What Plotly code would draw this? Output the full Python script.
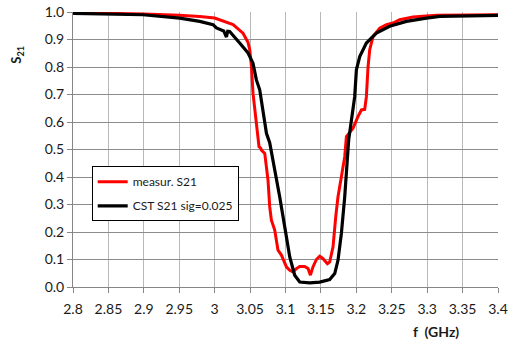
import plotly.graph_objects as go

# measured S21
f_meas = [2.8, 2.85, 2.9, 2.95, 2.979, 3.0, 3.026, 3.04, 3.047, 3.0495, 3.052, 3.0541,
          3.0565, 3.0598, 3.0626, 3.065, 3.066, 3.0707, 3.0753, 3.0777, 3.0801, 3.0848,
          3.0894, 3.0942, 3.0965, 3.1013, 3.106, 3.1106, 3.1154, 3.1201, 3.1271, 3.1318,
          3.1352, 3.1388, 3.1436, 3.1483, 3.153, 3.1592, 3.1624, 3.1671, 3.1709, 3.1741,
          3.1789, 3.1836, 3.186, 3.1953, 3.2024, 3.2072, 3.2118, 3.2142, 3.2165, 3.2189,
          3.2236, 3.233, 3.2425, 3.2518, 3.2612, 3.28, 3.3131, 3.35, 3.4]
s_meas = [0.997, 0.995, 0.993, 0.988, 0.984, 0.978, 0.954, 0.923, 0.89, 0.863, 0.80, 0.705,
          0.656, 0.583, 0.51, 0.505, 0.498, 0.486, 0.389, 0.292, 0.243, 0.207,
          0.134, 0.116, 0.103, 0.073, 0.061, 0.055, 0.067, 0.075, 0.075, 0.067,
          0.043, 0.073, 0.100, 0.112, 0.103, 0.085, 0.091, 0.146, 0.255, 0.328,
          0.401, 0.474, 0.547, 0.577, 0.620, 0.644, 0.646, 0.692, 0.80, 0.863,
          0.911, 0.941, 0.954, 0.960, 0.972, 0.982, 0.988, 0.989, 0.990]

# CST simulation S21
f_cst = [2.8, 2.85, 2.8988, 2.9506, 2.9789, 2.9977, 3.0025, 3.0128, 3.0166, 3.0184, 3.0212,
         3.0353, 3.0471, 3.0541, 3.0589, 3.0636, 3.0683, 3.0731, 3.0777, 3.0824, 3.0918,
         3.0989, 3.106, 3.113, 3.1201, 3.1342, 3.1483, 3.1624, 3.1695, 3.1741, 3.1789,
         3.1836, 3.1868, 3.1892, 3.1931, 3.1977, 3.2001, 3.2048, 3.2142, 3.2283, 3.2471,
         3.2707, 3.2989, 3.3177, 3.36, 3.4]
s_cst = [0.995, 0.993, 0.990, 0.978, 0.966, 0.954, 0.942, 0.931, 0.909, 0.930, 0.929,
         0.887, 0.851, 0.814, 0.753, 0.717, 0.644, 0.559, 0.525, 0.462, 0.328,
         0.219, 0.109, 0.043, 0.018, 0.015, 0.018, 0.027, 0.049, 0.097, 0.195,
         0.328, 0.462, 0.535, 0.607, 0.692, 0.790, 0.838, 0.887, 0.923, 0.948,
         0.966, 0.978, 0.984, 0.986, 0.988]

x_ticks = [2.8, 2.85, 2.9, 2.95, 3.0, 3.05, 3.1, 3.15, 3.2, 3.25, 3.3, 3.35, 3.4]
x_tick_labels = ["2.8", "2.85", "2.9", "2.95", "3", "3.05", "3.1", "3.15", "3.2",
                 "3.25", "3.3", "3.35", "3.4"]
y_ticks = [0.0, 0.1, 0.2, 0.3, 0.4, 0.5, 0.6, 0.7, 0.8, 0.9, 1.0]
y_tick_labels = ["0.0", "0.1", "0.2", "0.3", "0.4", "0.5", "0.6", "0.7", "0.8", "0.9", "1.0"]

FONT = "Lato, 'Open Sans', sans-serif"

fig = go.Figure()
fig.add_trace(go.Scatter(x=f_meas, y=s_meas, mode="lines", name="measur. S21",
                         legendgroup="a", line=dict(color="#ff0000", width=3)))
fig.add_trace(go.Scatter(x=f_cst, y=s_cst, mode="lines", name="CST S21 sig=0.025",
                         legendgroup="b", line=dict(color="#000000", width=3.2)))

fig.update_layout(
    width=508, height=343,
    margin=dict(l=73, r=10, t=12, b=56),
    paper_bgcolor="white", plot_bgcolor="white",
    font=dict(family=FONT, size=14, color="#1a1a1a"),
    showlegend=True,
    legend=dict(x=0.044, y=0.439, xanchor="left", yanchor="top",
                bgcolor="white", bordercolor="#000000", borderwidth=1,
                font=dict(size=12, family=FONT), tracegroupgap=5,
                traceorder="grouped", itemwidth=30),
    xaxis=dict(range=[2.8, 3.4], tickmode="array", tickvals=x_ticks, ticktext=x_tick_labels,
               showgrid=True, gridcolor="#b8b8b8", gridwidth=1,
               showline=True, linecolor="#868686", linewidth=1, mirror=False,
               ticks="outside", ticklen=5, tickcolor="#868686",
               ticklabelstandoff=4, zeroline=False, automargin=False),
    yaxis=dict(range=[0, 1.0], tickmode="array", tickvals=y_ticks, ticktext=y_tick_labels,
               showgrid=True, gridcolor="#8c8c8c", gridwidth=1,
               showline=True, linecolor="#868686", linewidth=1, mirror=False,
               ticks="outside", ticklen=5, tickcolor="#868686",
               zeroline=False, automargin=False),
    annotations=[
        dict(text="<b>S<sub>21</sub></b>", xref="paper", yref="y", x=0, y=0.845,
             xanchor="center", yanchor="middle", xshift=-56, textangle=-90,
             showarrow=False, font=dict(size=13, family=FONT, color="#1a1a1a")),
        dict(text="<b>f  (GHz)</b>", xref="x", yref="paper", x=3.312, y=0,
             xanchor="center", yanchor="middle", yshift=-44,
             showarrow=False, font=dict(size=14, family=FONT, color="#1a1a1a")),
    ],
)

fig.write_html("out.html", config={"displayModeBar": False},
               post_script="document.body.style.margin='0';document.body.style.overflow='hidden';")
